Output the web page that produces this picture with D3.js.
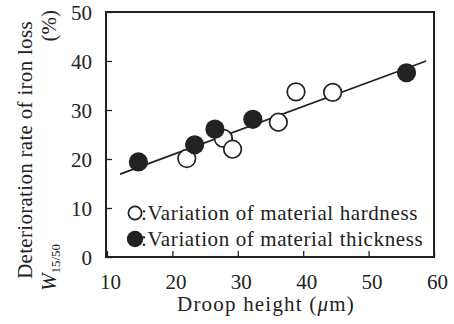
<!DOCTYPE html>
<html>
<head>
<meta charset="utf-8">
<script src="https://cdn.jsdelivr.net/npm/d3@7"></script>
<style>
  svg#chart text, svg#chart tspan { font-family: 'Liberation Serif' !important; }
</style>
</head>
<body style="margin:0;background:#fff">
<svg id="chart" width="454" height="324"></svg>
<script>
// Droop height (µm) vs deterioration rate of iron loss W15/50 (%)
const hardnessX = [22.2, 27.8, 29.2, 36.2, 38.9, 44.5];
const hardnessY = [20.1, 24.2, 22.0, 27.5, 33.7, 33.6];
const thicknessX = [14.8, 23.4, 26.5, 32.3, 55.8];
const thicknessY = [19.4, 22.9, 26.1, 28.1, 37.6];
const fitX = [12, 58.8];
const fitY = [16.9, 40.0];
const xTicks = [10, 20, 30, 40, 50, 60];
const yTicks = [0, 10, 20, 30, 40, 50];
const legendLabels = [":Variation of material hardness", ":Variation of material thickness"];

const ink = "#222";
const svg = d3.select("#chart");
const plotL = 106, plotR = 434, plotT = 12, plotB = 257;
const x = d3.scaleLinear().domain([10, 60]).range([plotL + 1, plotR]);
const y = d3.scaleLinear().domain([0, 50]).range([plotB, plotT]);

// serif text helper
const txt = (sel, size = 20) => sel.style("font-family", "'Liberation Serif'")
  .attr("font-size", size).attr("fill", ink);

// frame
svg.append("rect")
  .attr("x", plotL).attr("y", plotT)
  .attr("width", plotR - plotL).attr("height", plotB - plotT)
  .attr("fill", "none").attr("stroke", ink).attr("stroke-width", 2);

// axes with inward ticks
const xAxis = svg.append("g").attr("transform", `translate(0,${plotB})`)
  .call(d3.axisBottom(x).tickValues(xTicks).tickSizeInner(-6).tickSizeOuter(0).tickPadding(17));
const yAxis = svg.append("g").attr("transform", `translate(${plotL},0)`)
  .call(d3.axisLeft(y).tickValues(yTicks).tickSizeInner(-6).tickSizeOuter(0).tickPadding(14));
[xAxis, yAxis].forEach(g => {
  g.attr("font-family", null).attr("font-size", null);
  g.select(".domain").remove();
  g.selectAll("line").attr("stroke", ink).attr("stroke-width", 1.3);
  txt(g.selectAll("text"), 21);
});
yAxis.selectAll("text").attr("dy", "0.35em");
xAxis.selectAll("text").attr("dy", "0.71em").attr("dx", 3);

// fit line
svg.append("line")
  .attr("x1", x(fitX[0])).attr("y1", y(fitY[0]))
  .attr("x2", x(fitX[1])).attr("y2", y(fitY[1]))
  .attr("stroke", ink).attr("stroke-width", 1.8);

// points
svg.append("g").selectAll("circle")
  .data(hardnessX.map((d, i) => [d, hardnessY[i]]))
  .join("circle")
  .attr("cx", d => x(d[0])).attr("cy", d => y(d[1])).attr("r", 8.8)
  .attr("fill", "#fff").attr("stroke", ink).attr("stroke-width", 1.7);
svg.append("g").selectAll("circle")
  .data(thicknessX.map((d, i) => [d, thicknessY[i]]))
  .join("circle")
  .attr("cx", d => x(d[0])).attr("cy", d => y(d[1])).attr("r", 9.6)
  .attr("fill", ink);

// legend
const lg = svg.append("g");
legendLabels.forEach((t, i) => {
  const cy = 213 + i * 26;
  const c = lg.append("circle").attr("cx", 135).attr("cy", cy);
  if (i === 0) c.attr("r", 6.6).attr("fill", "#fff").attr("stroke", ink).attr("stroke-width", 1.7);
  else c.attr("r", 8.2).attr("fill", ink);
  txt(lg.append("text").attr("x", 141).attr("y", cy + 7), 21)
    .attr("letter-spacing", 0.6).text(t);
});

// axis titles
const xt = txt(svg.append("text").attr("x", 266).attr("y", 311).attr("text-anchor", "middle"), 21)
  .attr("letter-spacing", 1.2);
xt.append("tspan").text("Droop height (");
xt.append("tspan").attr("font-style", "italic").text("μ");
xt.append("tspan").text("m)");

txt(svg.append("text").attr("transform", "translate(32,150) rotate(-90)")
  .attr("text-anchor", "middle"), 21).attr("letter-spacing", 0.3)
  .text("Deterioration rate of iron loss");
const w = txt(svg.append("text").attr("transform", "translate(56,291) rotate(-90)")
  .attr("text-anchor", "start"), 21);
w.append("tspan").attr("font-style", "italic").text("W");
w.append("tspan").attr("font-size", 13).attr("dy", 4).text("15/50");
txt(svg.append("text").attr("transform", "translate(56,10) rotate(-90)")
  .attr("text-anchor", "end"), 21).text("(%)");
</script>
</body>
</html>
